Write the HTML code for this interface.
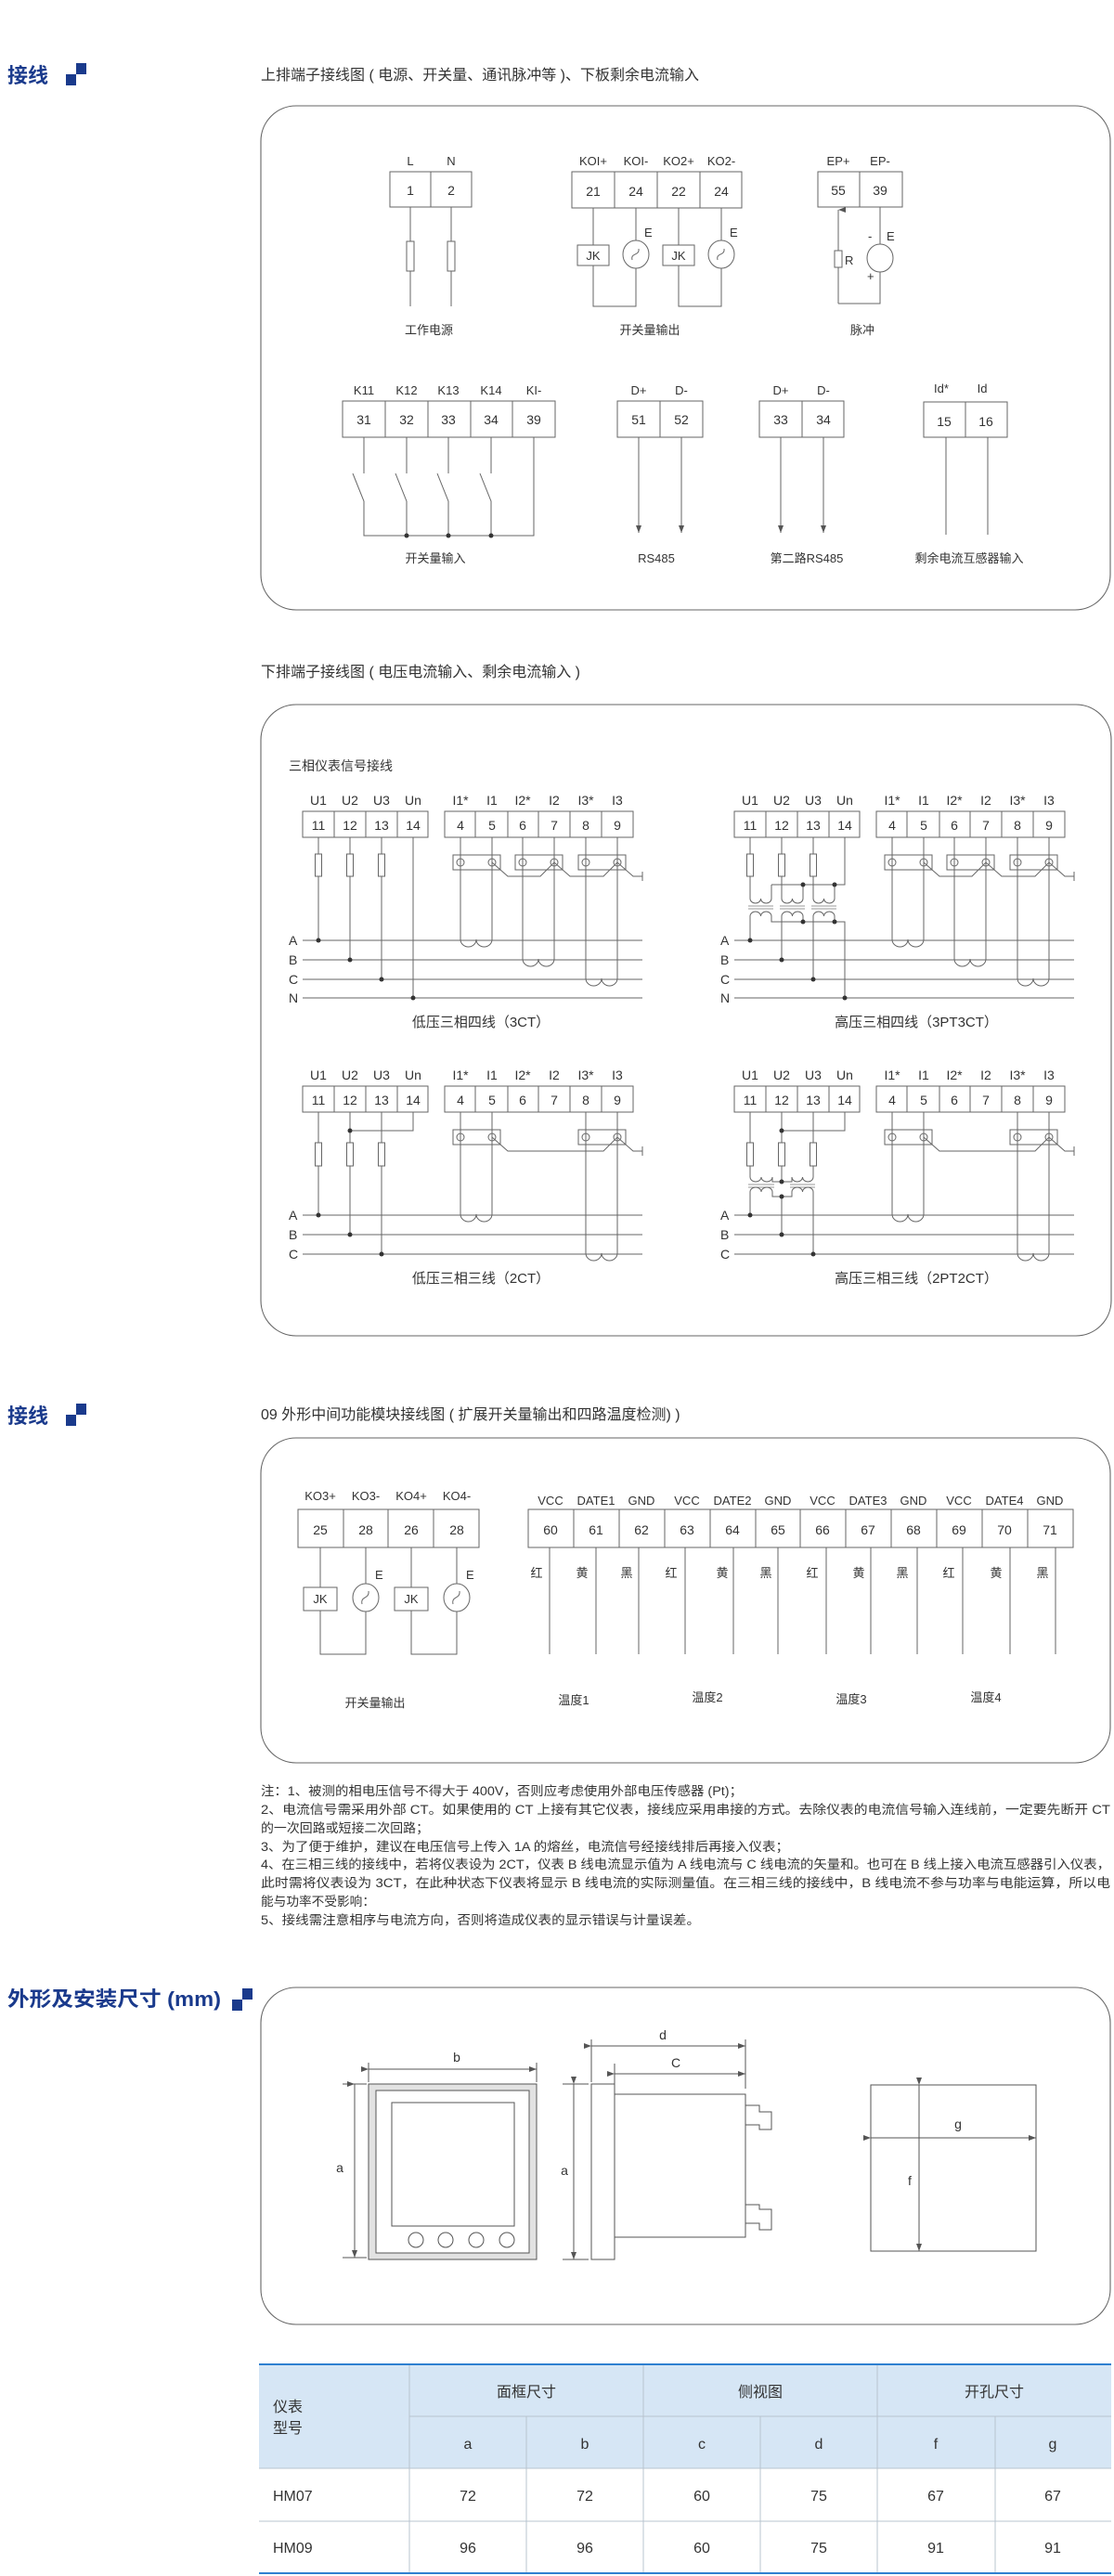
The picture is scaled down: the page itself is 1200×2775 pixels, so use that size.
<!DOCTYPE html>
<html><head><meta charset="utf-8">
<style>
html,body{margin:0;padding:0;background:#fff;}
svg{display:block;}
text{font-family:"Liberation Sans","Noto Sans CJK SC",sans-serif;fill:#333;}
.h{fill:#1a3a8c;font-size:22px;font-weight:bold;}
.t{font-size:16px;}
.s{font-size:13px;}
.m{font-size:14px;}
.c{text-anchor:middle;}
</style></head><body>
<svg width="1200" height="2775" viewBox="0 0 1200 2775" xmlns="http://www.w3.org/2000/svg">
<defs>
<marker id="au" markerWidth="6" markerHeight="8" refX="3" refY="0" orient="auto" markerUnits="userSpaceOnUse"><path d="M0,8 L3,0 L6,8 Z" fill="#555"/></marker>
<marker id="ae" markerWidth="8" markerHeight="6" refX="8" refY="3" orient="auto" markerUnits="userSpaceOnUse"><path d="M0,0 L8,3 L0,6 Z" fill="#555"/></marker>
</defs>
<g fill="none" stroke="#666" stroke-width="1.1">
<rect x="281" y="114" width="915" height="543" rx="38"/>
<rect x="281" y="759" width="916" height="680" rx="38"/>
<rect x="281" y="1549" width="915" height="350" rx="38"/>
<rect x="281" y="2141" width="915" height="363" rx="38"/>
</g>

<!-- headers -->
<text class="h" x="8" y="89">接线</text>
<rect x="71" y="80" width="11" height="12" fill="#1a3a8c"/><rect x="82" y="68" width="11" height="12" fill="#1a3a8c"/>
<text class="t" x="281" y="86">上排端子接线图 ( 电源、开关量、通讯脉冲等 )、下板剩余电流输入</text>
<text class="t" x="281" y="729">下排端子接线图 ( 电压电流输入、剩余电流输入 )</text>
<text class="h" x="8" y="1533">接线</text>
<rect x="71" y="1524" width="11" height="12" fill="#1a3a8c"/><rect x="82" y="1512" width="11" height="12" fill="#1a3a8c"/>
<text class="t" x="281" y="1529">09 外形中间功能模块接线图 ( 扩展开关量输出和四路温度检测) )</text>
<text class="h" x="8" y="2161" textLength="230" lengthAdjust="spacingAndGlyphs">外形及安装尺寸 (mm)</text>
<rect x="250" y="2154" width="11" height="12" fill="#1a3a8c"/><rect x="261" y="2142" width="11" height="12" fill="#1a3a8c"/>

<!-- ===== Box 1 row 1 ===== -->
<g fill="none" stroke="#666" stroke-width="1">
<rect x="420" y="185" width="88" height="38"/><line x1="464" y1="185" x2="464" y2="223"/>
<line x1="442" y1="223" x2="442" y2="330"/><line x1="486" y1="223" x2="486" y2="330"/>
<rect x="438" y="260" width="8" height="32" fill="#fff"/><rect x="482" y="260" width="8" height="32" fill="#fff"/>

<rect x="616" y="185" width="183" height="39"/>
<line x1="662" y1="185" x2="662" y2="224"/><line x1="708" y1="185" x2="708" y2="224"/><line x1="754" y1="185" x2="754" y2="224"/>
<path d="M639,224 V264 M639,286 V330 H685 V289 M685,259 V224"/>
<rect x="622" y="264" width="34" height="22"/><ellipse cx="685" cy="274" rx="14" ry="15"/>
<path d="M681,280 C679,272 689,276 688,268"/>
<path d="M731,224 V264 M731,286 V330 H777 V289 M777,259 V224"/>
<rect x="714" y="264" width="34" height="22"/><ellipse cx="777" cy="274" rx="14" ry="15"/>
<path d="M773,280 C771,272 781,276 780,268"/>

<rect x="881" y="185" width="91" height="38"/><line x1="926" y1="185" x2="926" y2="223"/>
<path d="M903,327 V226" marker-end="url(#au)"/>
<rect x="899" y="270" width="8" height="18" fill="#fff"/>
<path d="M948,223 V263 M948,293 V327 H903"/>
<ellipse cx="948" cy="278" rx="14" ry="15"/>
</g>
<g class="s">
<text class="c" x="442" y="178">L</text><text class="c" x="486" y="178">N</text>
<text class="c m" x="442" y="210">1</text><text class="c m" x="486" y="210">2</text>
<text class="c" x="462" y="360">工作电源</text>
<text class="c" x="639" y="178">KOI+</text><text class="c" x="685" y="178">KOI-</text><text class="c" x="731" y="178">KO2+</text><text class="c" x="777" y="178">KO2-</text>
<text class="c m" x="639" y="211">21</text><text class="c m" x="685" y="211">24</text><text class="c m" x="731" y="211">22</text><text class="c m" x="777" y="211">24</text>
<text class="c" x="639" y="280">JK</text><text class="c" x="731" y="280">JK</text>
<text x="694" y="255">E</text><text x="786" y="255">E</text>
<text class="c" x="700" y="360">开关量输出</text>
<text class="c" x="903" y="178">EP+</text><text class="c" x="948" y="178">EP-</text>
<text class="c m" x="903" y="210">55</text><text class="c m" x="948" y="210">39</text>
<text x="910" y="285">R</text><text x="935" y="259">-</text><text x="955" y="259">E</text><text x="934" y="302">+</text>
<text class="c" x="929" y="360">脉冲</text>
</g>

<!-- ===== Box 1 row 2 ===== -->
<g fill="none" stroke="#666" stroke-width="1">
<rect x="369" y="432" width="229" height="39"/>
<line x1="415" y1="432" x2="415" y2="471"/><line x1="461" y1="432" x2="461" y2="471"/><line x1="507" y1="432" x2="507" y2="471"/><line x1="552" y1="432" x2="552" y2="471"/>
<path d="M392,471 V510 M380,510 L392,540 V577 H575 V471"/>
<path d="M438,471 V510 M426,510 L438,540 V577"/>
<path d="M483,471 V510 M471,510 L483,540 V577"/>
<path d="M529,471 V510 M517,510 L529,540 V577"/>
<rect x="665" y="432" width="92" height="39"/><line x1="711" y1="432" x2="711" y2="471"/>
<line x1="688" y1="471" x2="688" y2="574" marker-end="url(#ae)"/><line x1="734" y1="471" x2="734" y2="574" marker-end="url(#ae)"/>
<rect x="818" y="432" width="91" height="39"/><line x1="864" y1="432" x2="864" y2="471"/>
<line x1="841" y1="471" x2="841" y2="574" marker-end="url(#ae)"/><line x1="887" y1="471" x2="887" y2="574" marker-end="url(#ae)"/>
<rect x="995" y="433" width="90" height="38"/><line x1="1040" y1="433" x2="1040" y2="471"/>
<line x1="1019" y1="471" x2="1019" y2="576"/><line x1="1064" y1="471" x2="1064" y2="576"/>
</g>
<g fill="#333"><circle cx="438" cy="577" r="2.5"/><circle cx="483" cy="577" r="2.5"/><circle cx="529" cy="577" r="2.5"/></g>
<g class="s">
<text class="c" x="392" y="425">K11</text><text class="c" x="438" y="425">K12</text><text class="c" x="483" y="425">K13</text><text class="c" x="529" y="425">K14</text><text class="c" x="575" y="425">KI-</text>
<text class="c m" x="392" y="457">31</text><text class="c m" x="438" y="457">32</text><text class="c m" x="483" y="457">33</text><text class="c m" x="529" y="457">34</text><text class="c m" x="575" y="457">39</text>
<text class="c" x="469" y="606">开关量输入</text>
<text class="c" x="688" y="425">D+</text><text class="c" x="734" y="425">D-</text>
<text class="c m" x="688" y="457">51</text><text class="c m" x="734" y="457">52</text>
<text class="c" x="707" y="606">RS485</text>
<text class="c" x="841" y="425">D+</text><text class="c" x="887" y="425">D-</text>
<text class="c m" x="841" y="457">33</text><text class="c m" x="887" y="457">34</text>
<text class="c" x="869" y="606">第二路RS485</text>
<text class="c" x="1014" y="423">Id*</text><text class="c" x="1058" y="423">Id</text>
<text class="c m" x="1017" y="459">15</text><text class="c m" x="1062" y="459">16</text>
<text class="c" x="1044" y="606">剩余电流互感器输入</text>
</g>

<!-- ===== Box 2 ===== -->
<text class="m" x="311" y="830">三相仪表信号接线</text>

<g fill="none" stroke="#666" stroke-width="1">
<g id="tb">
<rect x="326" y="874" width="135" height="28"/>
<line x1="360" y1="874" x2="360" y2="902"/><line x1="394" y1="874" x2="394" y2="902"/><line x1="428" y1="874" x2="428" y2="902"/>
<rect x="479" y="874" width="203" height="28"/>
<line x1="512" y1="874" x2="512" y2="902"/><line x1="547" y1="874" x2="547" y2="902"/><line x1="580" y1="874" x2="580" y2="902"/><line x1="614" y1="874" x2="614" y2="902"/><line x1="648" y1="874" x2="648" y2="902"/>
</g>
<use href="#tb" transform="translate(465,0)"/>
<use href="#tb" transform="translate(0,296)"/>
<use href="#tb" transform="translate(465,296)"/>
</g>
<g class="m">
<g>
<text class="c" x="343" y="867">U1</text><text class="c" x="377" y="867">U2</text><text class="c" x="411" y="867">U3</text><text class="c" x="445" y="867">Un</text>
<text class="c" x="496" y="867">I1*</text><text class="c" x="530" y="867">I1</text><text class="c" x="563" y="867">I2*</text><text class="c" x="597" y="867">I2</text><text class="c" x="631" y="867">I3*</text><text class="c" x="665" y="867">I3</text>
<text class="c" x="343" y="894">11</text><text class="c" x="377" y="894">12</text><text class="c" x="411" y="894">13</text><text class="c" x="445" y="894">14</text>
<text class="c" x="496" y="894">4</text><text class="c" x="530" y="894">5</text><text class="c" x="563" y="894">6</text><text class="c" x="597" y="894">7</text><text class="c" x="631" y="894">8</text><text class="c" x="665" y="894">9</text>
</g>
<g transform="translate(465,0)">
<text class="c" x="343" y="867">U1</text><text class="c" x="377" y="867">U2</text><text class="c" x="411" y="867">U3</text><text class="c" x="445" y="867">Un</text>
<text class="c" x="496" y="867">I1*</text><text class="c" x="530" y="867">I1</text><text class="c" x="563" y="867">I2*</text><text class="c" x="597" y="867">I2</text><text class="c" x="631" y="867">I3*</text><text class="c" x="665" y="867">I3</text>
<text class="c" x="343" y="894">11</text><text class="c" x="377" y="894">12</text><text class="c" x="411" y="894">13</text><text class="c" x="445" y="894">14</text>
<text class="c" x="496" y="894">4</text><text class="c" x="530" y="894">5</text><text class="c" x="563" y="894">6</text><text class="c" x="597" y="894">7</text><text class="c" x="631" y="894">8</text><text class="c" x="665" y="894">9</text>
</g>
<g transform="translate(0,296)">
<text class="c" x="343" y="867">U1</text><text class="c" x="377" y="867">U2</text><text class="c" x="411" y="867">U3</text><text class="c" x="445" y="867">Un</text>
<text class="c" x="496" y="867">I1*</text><text class="c" x="530" y="867">I1</text><text class="c" x="563" y="867">I2*</text><text class="c" x="597" y="867">I2</text><text class="c" x="631" y="867">I3*</text><text class="c" x="665" y="867">I3</text>
<text class="c" x="343" y="894">11</text><text class="c" x="377" y="894">12</text><text class="c" x="411" y="894">13</text><text class="c" x="445" y="894">14</text>
<text class="c" x="496" y="894">4</text><text class="c" x="530" y="894">5</text><text class="c" x="563" y="894">6</text><text class="c" x="597" y="894">7</text><text class="c" x="631" y="894">8</text><text class="c" x="665" y="894">9</text>
</g>
<g transform="translate(465,296)">
<text class="c" x="343" y="867">U1</text><text class="c" x="377" y="867">U2</text><text class="c" x="411" y="867">U3</text><text class="c" x="445" y="867">Un</text>
<text class="c" x="496" y="867">I1*</text><text class="c" x="530" y="867">I1</text><text class="c" x="563" y="867">I2*</text><text class="c" x="597" y="867">I2</text><text class="c" x="631" y="867">I3*</text><text class="c" x="665" y="867">I3</text>
<text class="c" x="343" y="894">11</text><text class="c" x="377" y="894">12</text><text class="c" x="411" y="894">13</text><text class="c" x="445" y="894">14</text>
<text class="c" x="496" y="894">4</text><text class="c" x="530" y="894">5</text><text class="c" x="563" y="894">6</text><text class="c" x="597" y="894">7</text><text class="c" x="631" y="894">8</text><text class="c" x="665" y="894">9</text>
</g>
</g>

<g fill="none" stroke="#666" stroke-width="1">
<g id="ct4">
<rect x="488" y="921" width="51" height="16"/><rect x="555" y="921" width="51" height="16"/><rect x="623" y="921" width="51" height="16"/>
<circle cx="496" cy="929" r="4"/><circle cx="530" cy="929" r="4"/><circle cx="563" cy="929" r="4"/><circle cx="597" cy="929" r="4"/><circle cx="631" cy="929" r="4"/><circle cx="665" cy="929" r="4"/>
<path d="M530,929 L547,944 H582 L597,929 L614,944 H650 L665,929 L682,944 H692 M692,939 V949"/>
<path d="M496,902 V1012 A8.5,8 0 0 0 513,1012 A8.5,8 0 0 0 530,1012 V902"/>
<path d="M563,902 V1033 A8.5,8 0 0 0 580,1033 A8.5,8 0 0 0 597,1033 V902"/>
<path d="M631,902 V1054 A8.5,8 0 0 0 648,1054 A8.5,8 0 0 0 665,1054 V902"/>
<line x1="326" y1="1013" x2="692" y2="1013"/><line x1="326" y1="1034" x2="692" y2="1034"/><line x1="326" y1="1055" x2="692" y2="1055"/><line x1="326" y1="1075" x2="692" y2="1075"/>
</g>
<use href="#ct4" transform="translate(465,0)"/>
<g id="ct3">
<rect x="488" y="1217" width="51" height="16"/><rect x="623" y="1217" width="51" height="16"/>
<circle cx="496" cy="1225" r="4"/><circle cx="530" cy="1225" r="4"/><circle cx="631" cy="1225" r="4"/><circle cx="665" cy="1225" r="4"/>
<path d="M530,1225 L547,1240 H650 L665,1225 L682,1240 H692 M692,1235 V1245"/>
<path d="M496,1198 V1308 A8.5,8 0 0 0 513,1308 A8.5,8 0 0 0 530,1308 V1198"/>
<path d="M631,1198 V1350 A8.5,8 0 0 0 648,1350 A8.5,8 0 0 0 665,1350 V1198"/>
<line x1="326" y1="1309" x2="692" y2="1309"/><line x1="326" y1="1330" x2="692" y2="1330"/><line x1="326" y1="1351" x2="692" y2="1351"/>
</g>
<use href="#ct3" transform="translate(465,0)"/>

<path d="M343,902 V1013 M377,902 V1034 M411,902 V1055 M445,902 V1075"/>

<!-- TR voltage with PTs -->
<path d="M808,902 V968 M842,902 V968 M876,902 V968 M910,902 V953 H831"/>
<path d="M808,968 A5.75,5 0 0 0 819.5,968 A5.75,5 0 0 0 831,968 V953"/>
<path d="M842,968 A5.75,5 0 0 0 853.5,968 A5.75,5 0 0 0 865,968 V953"/>
<path d="M876,968 A5.75,5 0 0 0 887.5,968 A5.75,5 0 0 0 899,968 V953"/>
<path d="M806,976 H833 M806,979 H833 M840,976 H867 M840,979 H867 M874,976 H901 M874,979 H901" stroke="#999"/>
<path d="M808,1013 V987 A5.75,5 0 0 1 819.5,987 A5.75,5 0 0 1 831,987 V993 H910 V1075"/>
<path d="M842,1034 V987 A5.75,5 0 0 1 853.5,987 A5.75,5 0 0 1 865,987 V993"/>
<path d="M876,1055 V987 A5.75,5 0 0 1 887.5,987 A5.75,5 0 0 1 899,987 V993"/>

<!-- BL voltage -->
<path d="M343,1198 V1309 M377,1198 V1330 M411,1198 V1351 M445,1198 V1218 H377"/>

<!-- BR voltage with 2 PTs -->
<path d="M910,1198 V1218 H842 M808,1198 V1268 M842,1198 V1273 M876,1198 V1268"/>
<path d="M808,1268 A6,5 0 0 0 820,1268 A6,5 0 0 0 832,1268 V1273 H853 V1268 A5.75,5 0 0 0 864.5,1268 A5.75,5 0 0 0 876,1268"/>
<path d="M806,1276 H834 M806,1279 H834 M851,1276 H878 M851,1279 H878" stroke="#999"/>
<path d="M808,1309 V1284 A6,5 0 0 1 820,1284 A6,5 0 0 1 832,1284 V1289 H853 V1284 A5.75,5 0 0 1 864.5,1284 A5.75,5 0 0 1 876,1284 V1351 M842,1289 V1330"/>

<g fill="#fff"><rect x="339.5" y="920" width="7" height="24"/><rect x="373.5" y="920" width="7" height="24"/><rect x="407.5" y="920" width="7" height="24"/>
<rect x="804.5" y="920" width="7" height="24"/><rect x="838.5" y="920" width="7" height="24"/><rect x="872.5" y="920" width="7" height="24"/>
<rect x="339.5" y="1231" width="7" height="25"/><rect x="373.5" y="1231" width="7" height="25"/><rect x="407.5" y="1231" width="7" height="25"/>
<rect x="804.5" y="1231" width="7" height="25"/><rect x="838.5" y="1231" width="7" height="25"/><rect x="872.5" y="1231" width="7" height="25"/></g>
</g>
<g fill="#333">
<circle cx="343" cy="1013" r="2.5"/><circle cx="377" cy="1034" r="2.5"/><circle cx="411" cy="1055" r="2.5"/><circle cx="445" cy="1075" r="2.5"/>
<circle cx="808" cy="1013" r="2.5"/><circle cx="842" cy="1034" r="2.5"/><circle cx="876" cy="1055" r="2.5"/><circle cx="910" cy="1075" r="2.5"/>
<circle cx="865" cy="953" r="2.5"/><circle cx="899" cy="953" r="2.5"/><circle cx="865" cy="993" r="2.5"/><circle cx="899" cy="993" r="2.5"/>
<circle cx="343" cy="1309" r="2.5"/><circle cx="377" cy="1330" r="2.5"/><circle cx="411" cy="1351" r="2.5"/><circle cx="377" cy="1218" r="2.5"/>
<circle cx="808" cy="1309" r="2.5"/><circle cx="842" cy="1330" r="2.5"/><circle cx="876" cy="1351" r="2.5"/><circle cx="842" cy="1218" r="2.5"/>
<circle cx="842" cy="1273" r="2.5"/><circle cx="842" cy="1289" r="2.5"/>
</g>
<g class="m">
<text x="311" y="1018">A</text><text x="311" y="1039">B</text><text x="311" y="1060">C</text><text x="311" y="1080">N</text>
<text x="776" y="1018">A</text><text x="776" y="1039">B</text><text x="776" y="1060">C</text><text x="776" y="1080">N</text>
<text x="311" y="1314">A</text><text x="311" y="1335">B</text><text x="311" y="1356">C</text>
<text x="776" y="1314">A</text><text x="776" y="1335">B</text><text x="776" y="1356">C</text>
</g>
<g style="font-size:15px">
<text class="c" x="518" y="1106">低压三相四线（3CT）</text>
<text class="c" x="987" y="1106">高压三相四线（3PT3CT）</text>
<text class="c" x="518" y="1382">低压三相三线（2CT）</text>
<text class="c" x="987" y="1382">高压三相三线（2PT2CT）</text>
</g>

<!-- ===== Box 3 ===== -->
<g fill="none" stroke="#666" stroke-width="1">
<rect x="321" y="1626" width="195" height="41"/>
<line x1="370" y1="1626" x2="370" y2="1667"/><line x1="418" y1="1626" x2="418" y2="1667"/><line x1="467" y1="1626" x2="467" y2="1667"/>
<path d="M345,1667 V1710 M345,1735 V1782 H394 V1736 M394,1706 V1667"/>
<rect x="327" y="1710" width="36" height="25"/><ellipse cx="394" cy="1721" rx="14" ry="15"/>
<path d="M390,1728 C388,1719 398,1723 397,1714"/>
<path d="M443,1667 V1710 M443,1735 V1782 H492 V1736 M492,1706 V1667"/>
<rect x="425" y="1710" width="36" height="25"/><ellipse cx="492" cy="1721" rx="14" ry="15"/>
<path d="M488,1728 C486,1719 496,1723 495,1714"/>
<rect x="569" y="1626" width="587" height="41"/>
<path d="M618,1626V1667 M667,1626V1667 M716,1626V1667 M765,1626V1667 M814,1626V1667 M862,1626V1667 M911,1626V1667 M960,1626V1667 M1009,1626V1667 M1058,1626V1667 M1107,1626V1667"/>
<path d="M592,1667V1782 M642,1667V1782 M688,1667V1782 M738,1667V1782 M790,1667V1782 M838,1667V1782 M890,1667V1782 M938,1667V1782 M988,1667V1782 M1037,1667V1782 M1088,1667V1782 M1137,1667V1782"/>
</g>
<g class="s">
<text class="c" x="345" y="1616">KO3+</text><text class="c" x="394" y="1616">KO3-</text><text class="c" x="443" y="1616">KO4+</text><text class="c" x="492" y="1616">KO4-</text>
<text class="c m" x="345" y="1653">25</text><text class="c m" x="394" y="1653">28</text><text class="c m" x="443" y="1653">26</text><text class="c m" x="492" y="1653">28</text>
<text class="c" x="345" y="1727">JK</text><text class="c" x="443" y="1727">JK</text>
<text x="404" y="1701">E</text><text x="502" y="1701">E</text>
<text class="c" x="404" y="1839">开关量输出</text>
<text class="c" x="593" y="1621">VCC</text><text class="c" x="642" y="1621">DATE1</text><text class="c" x="691" y="1621">GND</text>
<text class="c" x="740" y="1621">VCC</text><text class="c" x="789" y="1621">DATE2</text><text class="c" x="838" y="1621">GND</text>
<text class="c" x="886" y="1621">VCC</text><text class="c" x="935" y="1621">DATE3</text><text class="c" x="984" y="1621">GND</text>
<text class="c" x="1033" y="1621">VCC</text><text class="c" x="1082" y="1621">DATE4</text><text class="c" x="1131" y="1621">GND</text>
<text class="c m" x="593" y="1653">60</text><text class="c m" x="642" y="1653">61</text><text class="c m" x="691" y="1653">62</text><text class="c m" x="740" y="1653">63</text>
<text class="c m" x="789" y="1653">64</text><text class="c m" x="838" y="1653">65</text><text class="c m" x="886" y="1653">66</text><text class="c m" x="935" y="1653">67</text>
<text class="c m" x="984" y="1653">68</text><text class="c m" x="1033" y="1653">69</text><text class="c m" x="1082" y="1653">70</text><text class="c m" x="1131" y="1653">71</text>
<text class="c" x="578" y="1699">红</text><text class="c" x="627" y="1699">黄</text><text class="c" x="675" y="1699">黑</text>
<text class="c" x="723" y="1699">红</text><text class="c" x="778" y="1699">黄</text><text class="c" x="825" y="1699">黑</text>
<text class="c" x="875" y="1699">红</text><text class="c" x="925" y="1699">黄</text><text class="c" x="972" y="1699">黑</text>
<text class="c" x="1022" y="1699">红</text><text class="c" x="1073" y="1699">黄</text><text class="c" x="1123" y="1699">黑</text>
<text class="c" x="618" y="1836">温度1</text><text class="c" x="762" y="1833">温度2</text><text class="c" x="917" y="1835">温度3</text><text class="c" x="1062" y="1833">温度4</text>
</g>

<g style="font-size:13.5px">
<text x="281" y="1934" textLength="519" lengthAdjust="spacingAndGlyphs">注：1、被测的相电压信号不得大于 400V，否则应考虑使用外部电压传感器 (Pt)；</text>
<text x="281" y="1954" textLength="915" lengthAdjust="spacingAndGlyphs">2、电流信号需采用外部 CT。如果使用的 CT 上接有其它仪表，接线应采用串接的方式。去除仪表的电流信号输入连线前，一定要先断开 CT</text>
<text x="281" y="1974" textLength="181" lengthAdjust="spacingAndGlyphs">的一次回路或短接二次回路；</text>
<text x="281" y="1994" textLength="569" lengthAdjust="spacingAndGlyphs">3、为了便于维护，建议在电压信号上传入 1A 的熔丝，电流信号经接线排后再接入仪表；</text>
<text x="281" y="2013" textLength="915" lengthAdjust="spacingAndGlyphs">4、在三相三线的接线中，若将仪表设为 2CT，仪表 B 线电流显示值为 A 线电流与 C 线电流的矢量和。也可在 B 线上接入电流互感器引入仪表，</text>
<text x="281" y="2033" textLength="915" lengthAdjust="spacingAndGlyphs">此时需将仪表设为 3CT，在此种状态下仪表将显示 B 线电流的实际测量值。在三相三线的接线中，B 线电流不参与功率与电能运算，所以电</text>
<text x="281" y="2053" textLength="123" lengthAdjust="spacingAndGlyphs">能与功率不受影响：</text>
<text x="281" y="2073" textLength="473" lengthAdjust="spacingAndGlyphs">5、接线需注意相序与电流方向，否则将造成仪表的显示错误与计量误差。</text>
</g>

<!-- ===== Box 4 dimensions ===== -->
<g fill="none" stroke="#555" stroke-width="1">
<rect x="397" y="2245" width="181" height="189" fill="#e2e2e2"/>
<rect x="405" y="2252" width="165" height="175" fill="#fff"/>
<rect x="422" y="2265" width="132" height="133"/>
<ellipse cx="448" cy="2413" rx="8" ry="8"/><ellipse cx="480" cy="2413" rx="8" ry="8"/><ellipse cx="513" cy="2413" rx="8" ry="8"/><ellipse cx="546" cy="2413" rx="8" ry="8"/>
<path d="M369,2245 H395 M369,2432 H395"/>
<line x1="382" y1="2245" x2="382" y2="2432" marker-start="url(#au)" marker-end="url(#ae)"/>
<path d="M397,2222 V2243 M578,2222 V2243"/>
<line x1="397" y1="2229" x2="578" y2="2229" marker-start="url(#ae)" marker-end="url(#ae)"/>
<rect x="637" y="2245" width="25" height="189"/>
<rect x="662" y="2256" width="141" height="154"/>
<path d="M803,2268 H818 V2275 H831 V2294 H818 V2289 H803"/>
<path d="M803,2375 H818 V2380 H831 V2402 H818 V2395 H803"/>
<path d="M606,2245 H634 M606,2434 H634"/>
<line x1="618" y1="2245" x2="618" y2="2434" marker-start="url(#ae)" marker-end="url(#ae)"/>
<path d="M637,2197 V2243 M662,2223 V2245 M803,2197 V2250"/>
<line x1="637" y1="2204" x2="803" y2="2204" marker-start="url(#ae)" marker-end="url(#ae)"/>
<line x1="662" y1="2234" x2="803" y2="2234" marker-start="url(#ae)" marker-end="url(#ae)"/>
<rect x="938" y="2246" width="178" height="179"/>
<line x1="938" y1="2303" x2="1116" y2="2303" marker-start="url(#ae)" marker-end="url(#ae)"/>
<line x1="990" y1="2246" x2="990" y2="2425" marker-start="url(#ae)" marker-end="url(#ae)"/>
</g>
<g class="m">
<text class="c" x="366" y="2340">a</text><text class="c" x="492" y="2221">b</text>
<text class="c" x="608" y="2343">a</text><text class="c" x="714" y="2197">d</text><text class="c" x="728" y="2227">C</text>
<text class="c" x="1032" y="2293">g</text><text class="c" x="980" y="2354">f</text>
</g>

<!-- ===== Table ===== -->
<rect x="279" y="2547" width="918" height="112" fill="#d6e6f5"/>
<g stroke="#b8c4cf" stroke-width="1" fill="none">
<path d="M441,2547 V2772 M693,2547 V2772 M945,2547 V2772 M567,2603 V2772 M819,2603 V2772 M1072,2603 V2772"/>
<path d="M441,2603 H1197 M279,2659 H1197 M279,2716 H1197"/>
</g>
<line x1="279" y1="2547" x2="1197" y2="2547" stroke="#2f80d0" stroke-width="2"/>
<line x1="279" y1="2772" x2="1197" y2="2772" stroke="#2f80d0" stroke-width="2"/>
<g class="t">
<text x="294" y="2598">仪表</text><text x="294" y="2621">型号</text>
<text class="c" x="567" y="2582">面框尺寸</text><text class="c" x="819" y="2582">侧视图</text><text class="c" x="1071" y="2582">开孔尺寸</text>
<text class="c" x="504" y="2638">a</text><text class="c" x="630" y="2638">b</text><text class="c" x="756" y="2638">c</text><text class="c" x="882" y="2638">d</text><text class="c" x="1008" y="2638">f</text><text class="c" x="1134" y="2638">g</text>
<text x="294" y="2694">HM07</text>
<text class="c" x="504" y="2694">72</text><text class="c" x="630" y="2694">72</text><text class="c" x="756" y="2694">60</text><text class="c" x="882" y="2694">75</text><text class="c" x="1008" y="2694">67</text><text class="c" x="1134" y="2694">67</text>
<text x="294" y="2750">HM09</text>
<text class="c" x="504" y="2750">96</text><text class="c" x="630" y="2750">96</text><text class="c" x="756" y="2750">60</text><text class="c" x="882" y="2750">75</text><text class="c" x="1008" y="2750">91</text><text class="c" x="1134" y="2750">91</text>
</g>
</svg>
</body></html>
